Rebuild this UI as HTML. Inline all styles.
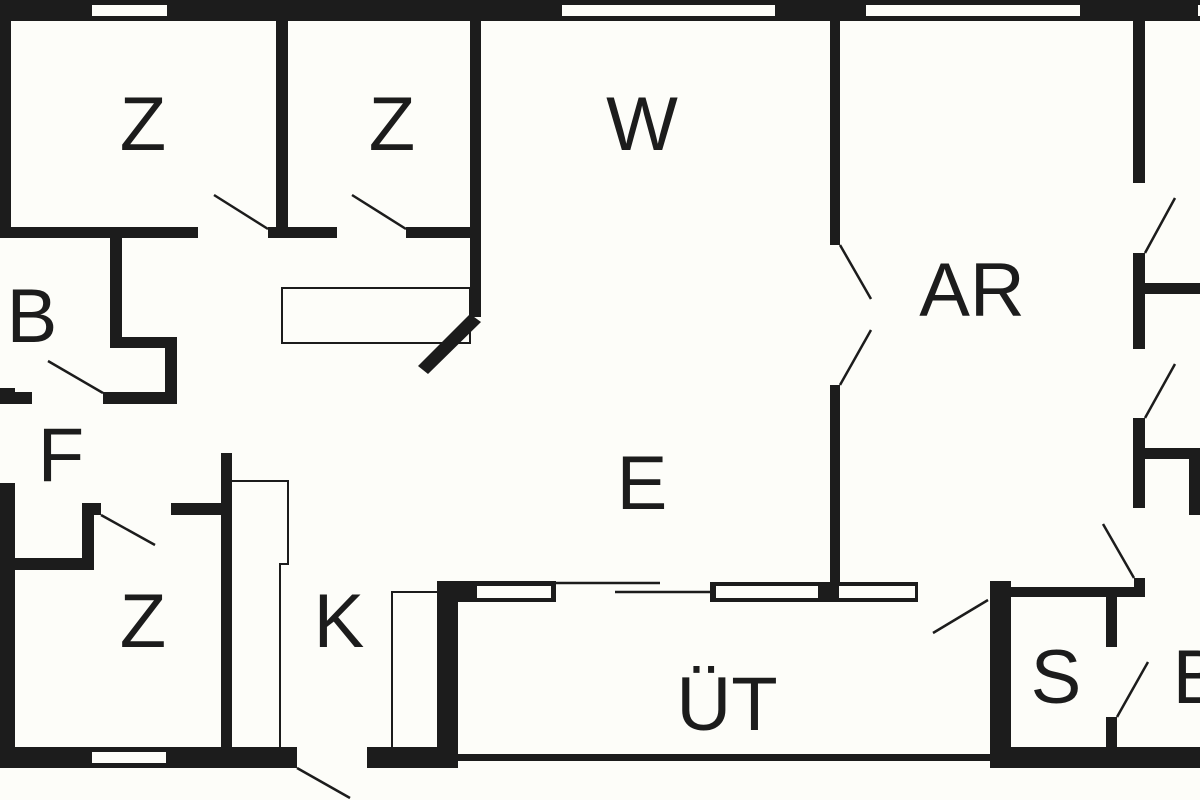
<!DOCTYPE html>
<html><head><meta charset="utf-8"><style>
html,body{margin:0;padding:0;background:#fdfdf9;}
svg{display:block}
text{font-family:"Liberation Sans",sans-serif;font-size:76px;fill:#1c1c1c;text-anchor:middle}
</style></head><body>
<svg width="1200" height="800" viewBox="0 0 1200 800" xmlns="http://www.w3.org/2000/svg">
<rect width="1200" height="800" fill="#fdfdf9"/>
<g fill="#1c1c1c">
<!-- top wall -->
<rect x="0" y="0" width="1200" height="21"/>
<!-- left wall upper -->
<rect x="0" y="0" width="11" height="238"/>
<rect x="276" y="21" width="12" height="212"/>
<rect x="470" y="21" width="11" height="296"/>
<!-- horizontal wall under Z rooms -->
<rect x="0" y="227" width="198" height="11"/>
<rect x="268" y="227" width="69" height="11"/>
<rect x="406" y="227" width="75" height="11"/>
<!-- B walls -->
<rect x="110" y="238" width="12" height="110"/>
<rect x="110" y="337" width="67" height="11"/>
<rect x="165" y="337" width="12" height="67"/>
<rect x="103" y="392" width="74" height="12"/>
<rect x="0" y="388" width="15" height="16"/>
<rect x="15" y="392" width="17" height="12"/>
<!-- diagonal -->
<polygon points="470,314 481,322 428,374 418,366"/>
<!-- left wall lower -->
<rect x="0" y="483" width="15" height="285"/>
<rect x="15" y="558" width="79" height="12"/>
<rect x="82" y="503" width="12" height="67"/>
<rect x="82" y="503" width="19" height="12"/>
<rect x="171" y="503" width="61" height="12"/>
<rect x="221" y="453" width="11" height="315"/>
<!-- bottom walls -->
<rect x="0" y="747" width="297" height="21"/>
<rect x="367" y="747" width="91" height="21"/>
<rect x="437" y="581" width="21" height="187"/>
<rect x="437" y="581" width="119" height="21"/>
<rect x="458" y="754" width="532" height="7"/>
<!-- AR left wall -->
<rect x="830" y="21" width="10" height="224"/>
<rect x="830" y="385" width="10" height="217"/>
<!-- window frame bottom -->
<rect x="710" y="582" width="208" height="20"/>
<!-- S room -->
<rect x="990" y="581" width="21" height="187"/>
<rect x="990" y="747" width="210" height="21"/>
<rect x="1011" y="587" width="134" height="10"/>
<rect x="1134" y="578" width="11" height="19"/>
<rect x="1106" y="597" width="11" height="50"/>
<rect x="1106" y="717" width="11" height="30"/>
<!-- right wall -->
<rect x="1133" y="21" width="12" height="162"/>
<rect x="1133" y="253" width="12" height="96"/>
<rect x="1145" y="283" width="55" height="11"/>
<rect x="1133" y="418" width="12" height="90"/>
<rect x="1145" y="448" width="55" height="11"/>
<rect x="1189" y="448" width="11" height="67"/>
</g>
<g fill="#fdfdf9">
<rect x="92" y="5" width="75" height="11"/>
<rect x="562" y="5" width="213" height="11"/>
<rect x="866" y="5" width="214" height="11"/>
<rect x="1198" y="5" width="2" height="11"/>
<rect x="92" y="752" width="74" height="11"/>
<rect x="477" y="586" width="74" height="12"/>
<rect x="716" y="586" width="102" height="12"/>
<rect x="839" y="586" width="76" height="12"/>
</g>
<g stroke="#1c1c1c" stroke-width="2.5" fill="none">
<line x1="268" y1="229" x2="214" y2="195"/>
<line x1="406" y1="229" x2="352" y2="195"/>
<line x1="103" y1="393" x2="48" y2="361"/>
<line x1="101" y1="515" x2="155" y2="545"/>
<line x1="297" y1="768" x2="350" y2="798"/>
<line x1="840" y1="245" x2="871" y2="299"/>
<line x1="840" y1="385" x2="871" y2="330"/>
<line x1="1145" y1="253" x2="1175" y2="198"/>
<line x1="1145" y1="418" x2="1175" y2="364"/>
<line x1="1134" y1="578" x2="1103" y2="524"/>
<line x1="988" y1="600" x2="933" y2="633"/>
<line x1="1117" y1="717" x2="1148" y2="662"/>
<line x1="540" y1="583" x2="660" y2="583"/>
<line x1="615" y1="592" x2="710" y2="592"/>
<rect x="282" y="288" width="188" height="55" stroke-width="2"/>
<polyline points="232,481 288,481 288,564 280,564 280,747" stroke-width="2"/>
<polyline points="392,747 392,592 437,592" stroke-width="2"/>
</g>
<text x="143" y="150">Z</text>
<text x="392" y="150">Z</text>
<text x="642" y="150">W</text>
<text x="972" y="316">AR</text>
<text x="32" y="342">B</text>
<text x="61" y="481">F</text>
<text x="642" y="509">E</text>
<text x="143" y="647">Z</text>
<text x="339" y="647">K</text>
<text x="727" y="730">ÜT</text>
<text x="1056" y="703">S</text>
<text x="1198" y="703">B</text>
</svg>
</body></html>
